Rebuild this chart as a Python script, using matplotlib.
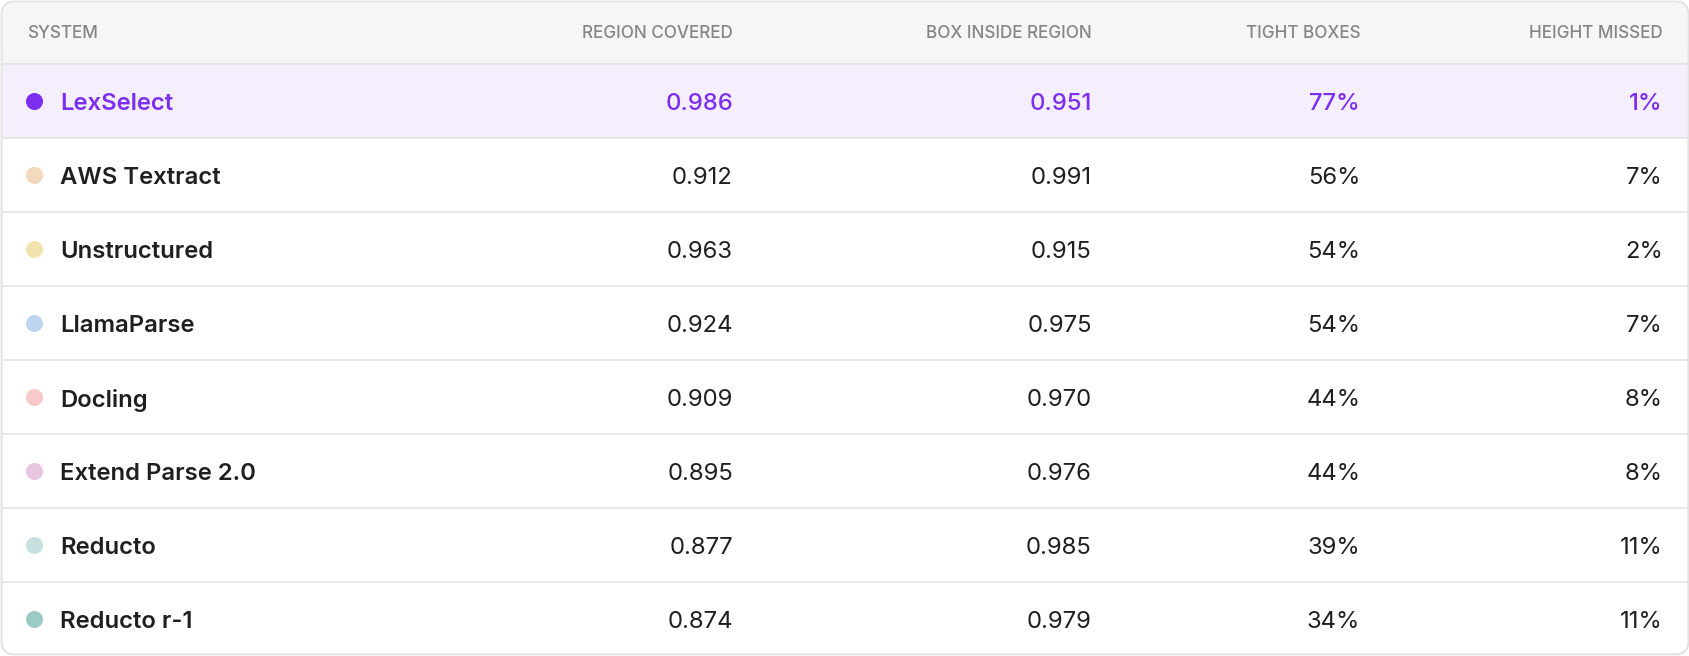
import matplotlib
matplotlib.use("Agg")
import matplotlib.pyplot as plt
from matplotlib.patches import FancyBboxPatch, Rectangle

columns = ["SYSTEM", "REGION COVERED", "BOX INSIDE REGION", "TIGHT BOXES", "HEIGHT MISSED"]
systems = ["LexSelect", "AWS Textract", "Unstructured", "LlamaParse", "Docling",
           "Extend Parse 2.0", "Reducto", "Reducto r-1"]
region_covered = ["0.986", "0.912", "0.963", "0.924", "0.909", "0.895", "0.877", "0.874"]
box_inside = ["0.951", "0.991", "0.915", "0.975", "0.970", "0.976", "0.985", "0.979"]
tight_boxes = ["77%", "56%", "54%", "54%", "44%", "44%", "39%", "34%"]
height_missed = ["1%", "7%", "2%", "7%", "8%", "8%", "11%", "11%"]
dot_colors = ["#7c2ff0", "#f2d9bd", "#f1e3ad", "#bdd5ef", "#f7c9c9",
              "#e9c6df", "#c6e0e0", "#9ccbc3"]

W, H = 1568, 608
fig = plt.figure(figsize=(16.9, 6.56), dpi=100)
ax = fig.add_axes([0, 0, 1, 1])
ax.set_xlim(0, W); ax.set_ylim(H, 0); ax.axis("off")
plt.rcParams['font.family'] = ['Inter', 'DejaVu Sans']

ax.add_patch(FancyBboxPatch((1.5, 1.5), W - 3, H - 3, boxstyle="round,pad=0,rounding_size=12",
                            fc="white", ec="#e3e3e3", lw=1.5, zorder=0))
hdr_h = 59
ax.add_patch(FancyBboxPatch((2.5, 2.5), W - 5, hdr_h - 2.5, boxstyle="round,pad=0,rounding_size=11",
                            fc="#f6f6f6", ec="none", zorder=1))
ax.add_patch(Rectangle((2.5, 30), W - 5, hdr_h - 30, fc="#f6f6f6", ec="none", zorder=1))
row_h = (H - hdr_h) / len(systems)
ax.add_patch(Rectangle((2.5, hdr_h), W - 5, row_h, fc="#f5effd", ec="none", zorder=1))

right_x = [680, 1013, 1262, 1543]
hy = hdr_h / 2 + 1.5
ax.text(25, hy, columns[0], color="#858585", fontsize=12.3, fontweight="medium",
        va="center", ha="left", zorder=3)
for c, x in zip(columns[1:], right_x):
    ax.text(x, hy, c, color="#858585", fontsize=12.3, fontweight="medium",
            va="center", ha="right", zorder=3)

ax.plot([1.5, W - 1.5], [hdr_h, hdr_h], color="#e3e3e3", lw=1.5, zorder=2)
for i, name in enumerate(systems):
    y = hdr_h + row_h * (i + 0.5)
    ty = y + 3
    if i > 0:
        ax.plot([1.5, W - 1.5], [hdr_h + row_h * i] * 2, color="#e5e5e5", lw=1.3, zorder=2)
    hl = i == 0
    col = "#7c2ff0" if hl else "#1f1f1f"
    ax.scatter([32], [y], s=150, color=dot_colors[i], zorder=3, linewidths=0)
    ax.text(56, ty, name, color=col, fontsize=17.2, va="center", ha="left",
            fontweight="semibold", zorder=3)
    for vals, x in zip([region_covered, box_inside, tight_boxes, height_missed], right_x):
        ax.text(x, ty, vals[i], color=col, fontsize=17.2, va="center", ha="right",
                fontweight="medium" if hl else "normal", zorder=3)

fig.savefig("out.png", dpi=100)
